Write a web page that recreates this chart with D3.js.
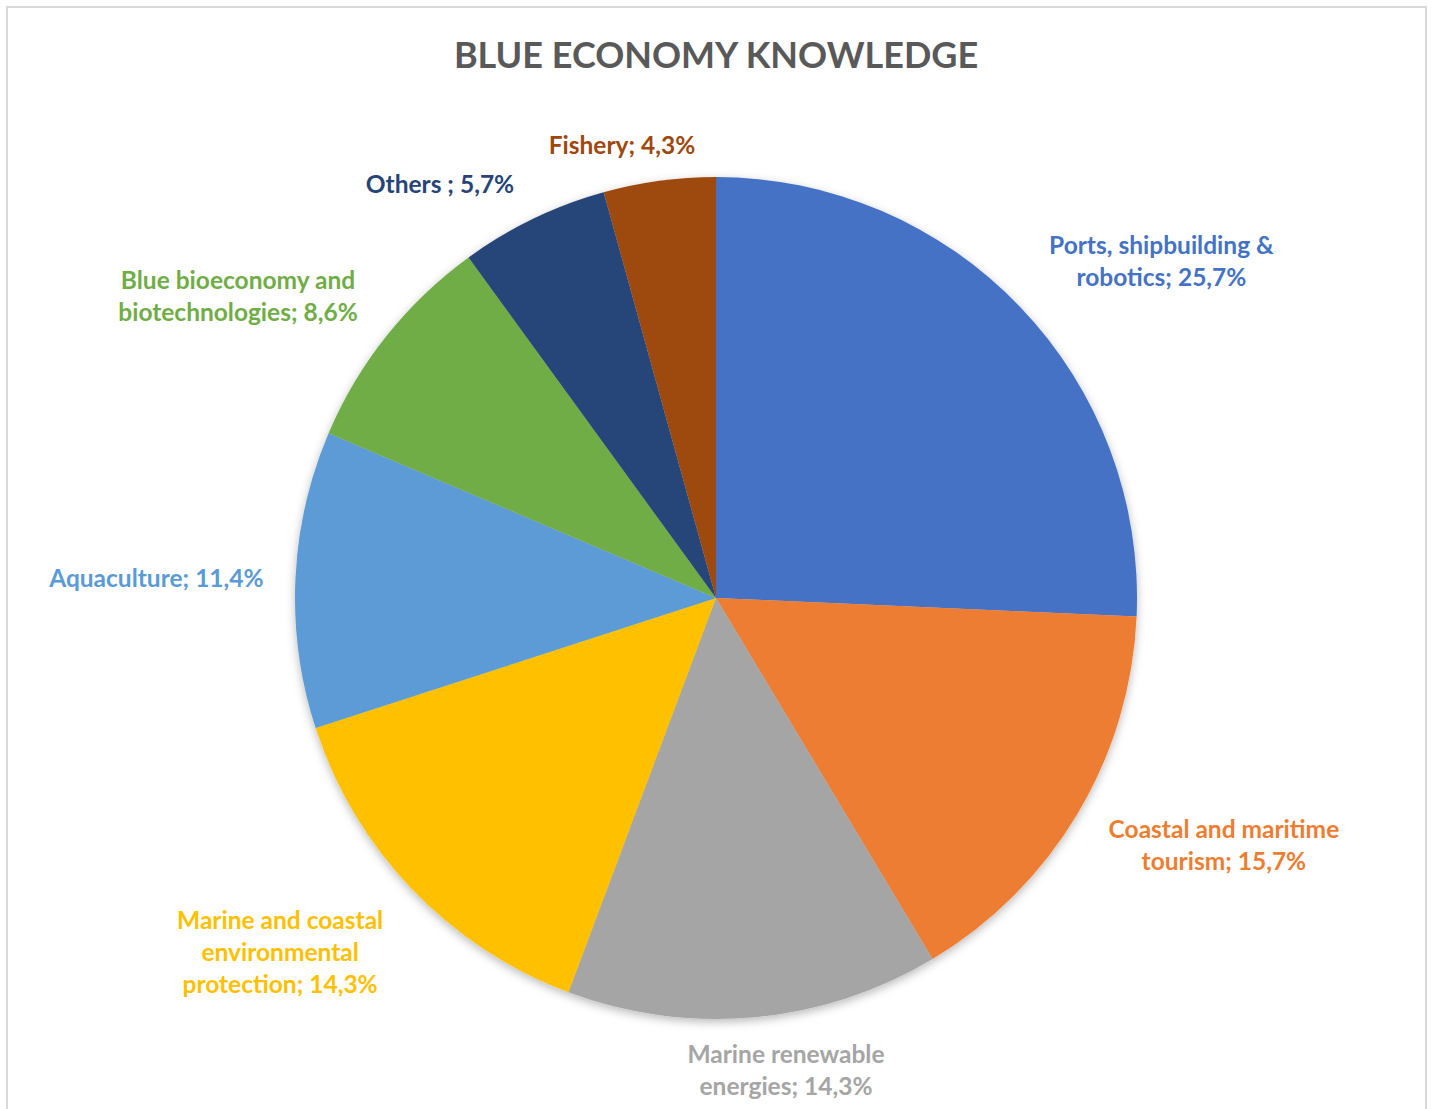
<!DOCTYPE html>
<html>
<head>
<meta charset="utf-8">
<script src="https://cdn.jsdelivr.net/npm/d3@7"></script>
<style>
  html, body { margin: 0; padding: 0; background: #fff; }
  svg { display: block; }
</style>
</head>
<body>
<div id="chart"></div>
<script>
// data, clockwise from 12 o'clock
const categories = [
  'Ports, shipbuilding & robotics',
  'Coastal and maritime tourism',
  'Marine renewable energies',
  'Marine and coastal environmental protection',
  'Aquaculture',
  'Blue bioeconomy and biotechnologies',
  'Others ',
  'Fishery'
];
const values = [25.7, 15.7, 14.3, 14.3, 11.4, 8.6, 5.7, 4.3];
// how each label wraps in the original
const labelLines = [
  ['Ports, shipbuilding &', 'robotics; 25,7%'],
  ['Coastal and maritime', 'tourism; 15,7%'],
  ['Marine renewable', 'energies; 14,3%'],
  ['Marine and coastal', 'environmental', 'protection; 14,3%'],
  ['Aquaculture; 11,4%'],
  ['Blue bioeconomy and', 'biotechnologies; 8,6%'],
  ['Others ; 5,7%'],
  ['Fishery; 4,3%']
];
const colors = ['#4472C4', '#ED7D31', '#A5A5A5', '#FFC000', '#5B9BD5', '#70AD47', '#264478', '#9E480E'];

// label layout (distance of label centre from pie centre, and turn in degrees off the slice middle)
const labelDist = [558, 565, 478, 562, 560, 565, 497, 462];
const labelTurn = [6.7, -4.8, -3.2, 4.6, -0.5, -6.3, -8, -4];

const width = 1432, height = 1109;
const cx = 716, cy = 598, radius = 421;
const fontFamily = 'Lato, "Open Sans", sans-serif';

const svg = d3.select('#chart')
  .append('svg')
  .attr('width', width)
  .attr('height', height);

// chart area border
svg.append('rect')
  .attr('x', 7)
  .attr('y', 7)
  .attr('width', 1419)
  .attr('height', height + 20)
  .attr('fill', '#fff')
  .attr('stroke', '#d9d9d9')
  .attr('stroke-width', 2);

const defs = svg.append('defs');
const shadow = defs.append('filter')
  .attr('id', 'shadow')
  .attr('x', '-10%').attr('y', '-10%')
  .attr('width', '120%').attr('height', '120%');
shadow.append('feDropShadow')
  .attr('dx', 0)
  .attr('dy', 3)
  .attr('stdDeviation', 5)
  .attr('flood-color', '#000')
  .attr('flood-opacity', 0.28);

// title
svg.append('text')
  .attr('x', cx)
  .attr('y', 68)
  .attr('text-anchor', 'middle')
  .style('font-family', fontFamily)
  .style('font-weight', 'bold')
  .style('font-size', '36px')
  .attr('fill', '#595959')
  .text('BLUE ECONOMY KNOWLEDGE');

const pie = d3.pie().sort(null).value(d => d);
const arcs = pie(values);

const arc = d3.arc()
  .innerRadius(0)
  .outerRadius(radius);

const g = svg.append('g')
  .attr('transform', 'translate(' + cx + ',' + cy + ')');

g.append('g')
  .attr('filter', 'url(#shadow)')
  .selectAll('path')
  .data(arcs)
  .enter()
  .append('path')
  .attr('d', arc)
  .attr('fill', (d, i) => colors[i]);

// data labels
const lineHeight = 32;
const labels = g.selectAll('text.label')
  .data(arcs)
  .enter()
  .append('text')
  .attr('class', 'label')
  .attr('text-anchor', 'middle')
  .style('font-family', fontFamily)
  .style('font-weight', 'bold')
  .style('font-size', '24.5px')
  .attr('fill', (d, i) => colors[i])
  .attr('transform', (d, i) => {
    const a = (d.startAngle + d.endAngle) / 2 + labelTurn[i] * Math.PI / 180;
    const x = labelDist[i] * Math.sin(a);
    const y = -labelDist[i] * Math.cos(a);
    return 'translate(' + x + ',' + y + ')';
  });

labels.each(function(d, i) {
  const lines = labelLines[i];
  const top = -(lines.length - 1) * lineHeight / 2;
  d3.select(this).selectAll('tspan')
    .data(lines)
    .enter()
    .append('tspan')
    .attr('x', 0)
    .attr('y', (l, j) => top + j * lineHeight)
    .attr('dy', '0.35em')
    .text(l => l);
});
</script>
</body>
</html>
